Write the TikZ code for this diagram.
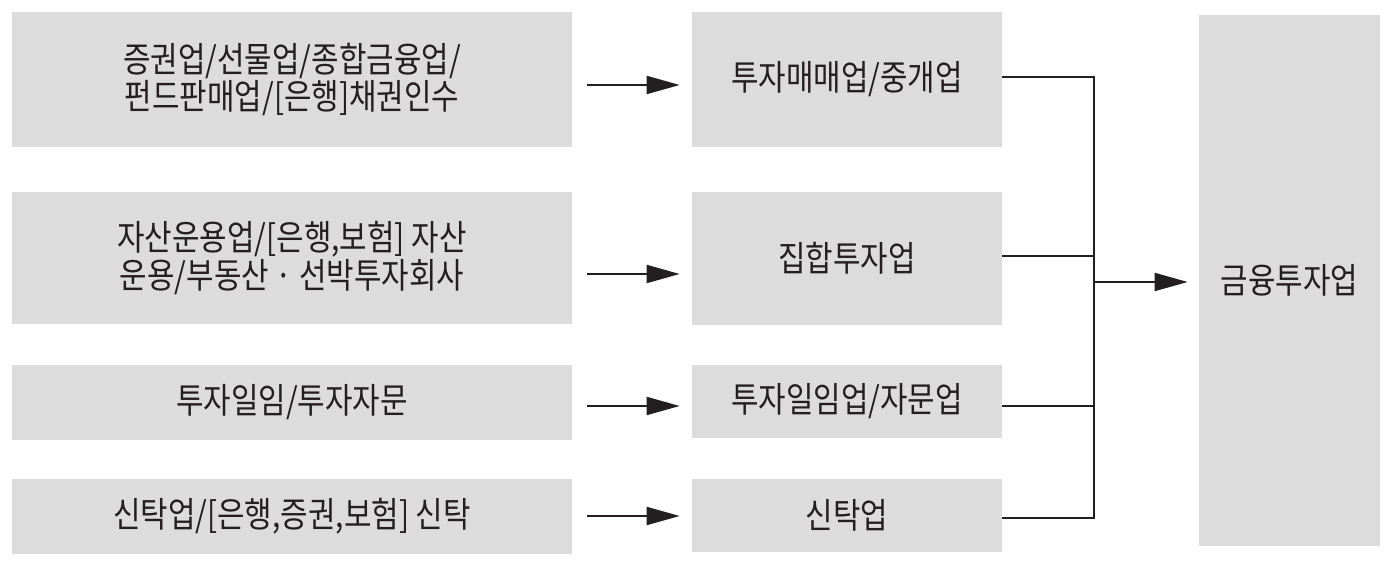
\documentclass[tikz,border=0pt]{standalone}
\usepackage{fontspec}
\setmainfont{Noto Sans CJK KR}[FakeStretch=0.85]
\usetikzlibrary{arrows.meta}
\definecolor{boxgray}{HTML}{DCDCDC}
\definecolor{ink}{HTML}{231F20}
\tikzset{
  box/.style={fill=boxgray, inner sep=0pt, align=center, text=ink, font=\fontsize{20}{20}\selectfont},
  link/.style={draw=ink, line width=1.1pt},
  arr/.style={link, -{Triangle[length=0.66cm,width=0.36cm]}}
}
\begin{document}
\begin{tikzpicture}
\useasboundingbox (0, 0) rectangle (27.84, 11.32);
% left column
\node[box, minimum width=11.2cm, minimum height=2.7cm] (l1) at (5.84, 9.73) {증권업/선물업/종합금융업/\\펀드판매업/[은행]채권인수};
\node[box, minimum width=11.2cm, minimum height=2.64cm] (l2) at (5.84, 6.16) {자산운용업/[은행,보험] 자산\\운용/부동산 · 선박투자회사};
\node[box, minimum width=11.2cm, minimum height=1.5cm] (l3) at (5.84, 3.27) {투자일임/투자자문};
\node[box, minimum width=11.2cm, minimum height=1.5cm] (l4) at (5.84, 0.99) {신탁업/[은행,증권,보험] 신탁};
% middle column
\node[box, minimum width=6.2cm, minimum height=2.7cm] (m1) at (16.94, 9.73) {투자매매업/중개업};
\node[box, minimum width=6.2cm, minimum height=2.66cm] (m2) at (16.94, 6.15) {집합투자업};
\node[box, minimum width=6.2cm, minimum height=1.46cm] (m3) at (16.94, 3.29) {투자일임업/자문업};
\node[box, minimum width=6.2cm, minimum height=1.46cm] (m4) at (16.94, 1.01) {신탁업};
% right column
\node[box, minimum width=3.62cm, minimum height=10.62cm] (fin) at (25.79, 5.71) {금융투자업};
% arrows
\draw[arr, shorten <=0.3cm, shorten >=0.24cm] (l1.east |- 0, 9.62) -- (m1.west |- 0, 9.62);
\draw[arr, shorten <=0.3cm, shorten >=0.24cm] (l2.east |- 0, 5.84) -- (m2.west |- 0, 5.84);
\draw[arr, shorten <=0.3cm, shorten >=0.24cm] (l3.east |- 0, 3.2) -- (m3.west |- 0, 3.2);
\draw[arr, shorten <=0.3cm, shorten >=0.24cm] (l4.east |- 0, 1.0) -- (m4.west |- 0, 1.0);
% joining lines
\coordinate (join) at (21.88, 5.68);
\draw[link] (m1.east |- 0, 9.78) -| (join);
\draw[link] (m2.east |- 0, 6.2) -| (join);
\draw[link] (m3.east |- 0, 3.2) -| (join);
\draw[link] (m4.east |- 0, 0.96) -| (join);
\draw[arr, shorten >=0.22cm] (join) -- (fin.west |- join);
\end{tikzpicture}
\end{document}
